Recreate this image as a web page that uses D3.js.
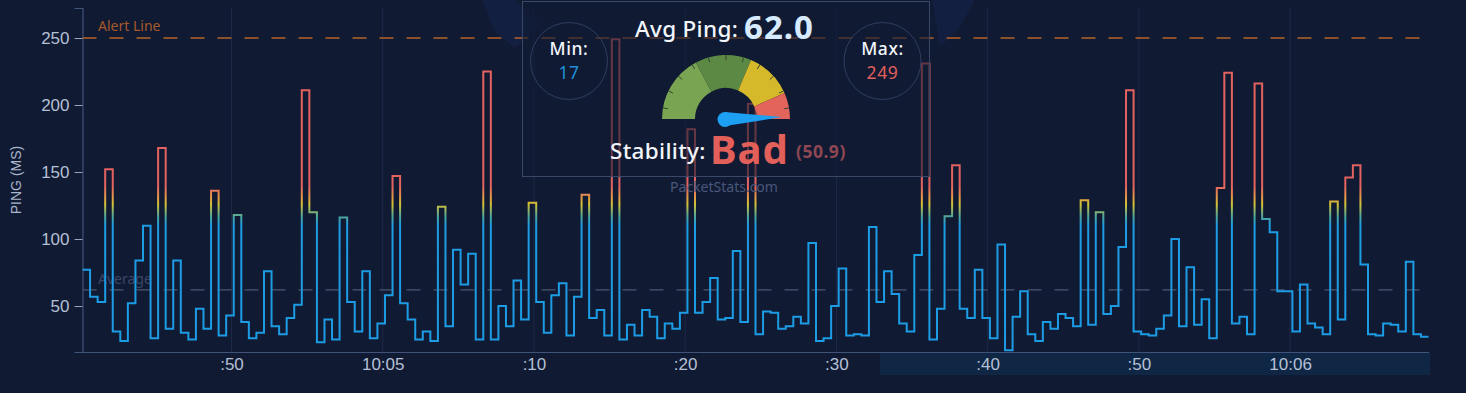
<!DOCTYPE html>
<html>
<head>
<meta charset="utf-8">
<script src="https://cdn.jsdelivr.net/npm/d3@7"></script>
<style>
  html, body { margin: 0; padding: 0; background: #111a33; }
  svg { display: block; }
</style>
</head>
<body>
<div id="chart"></div>
<script>
// ping samples, one every half second
const pingValues = [
  77, 57, 53, 152, 31, 24, 52, 84, 110, 26,
  168, 33, 84, 30, 25, 48, 33, 136, 28, 43,
  118, 38, 26, 30, 76, 35, 29, 41, 51, 211,
  120, 23, 40, 25, 116, 53, 31, 76, 26, 37,
  58, 147, 52, 40, 25, 31, 24, 124, 35, 92,
  66, 89, 25, 225, 25, 50, 35, 69, 40, 127,
  53, 30, 58, 67, 28, 57, 133, 41, 47, 28,
  249, 25, 36, 28, 47, 42, 26, 37, 33, 45,
  182, 45, 53, 71, 40, 41, 91, 38, 201, 29,
  46, 45, 33, 35, 42, 37, 97, 24, 26, 50,
  78, 28, 29, 28, 109, 53, 76, 59, 37, 31,
  88, 231, 25, 48, 117, 155, 48, 41, 77, 41,
  26, 96, 17, 42, 61, 29, 24, 38, 33, 44,
  41, 35, 129, 36, 120, 44, 50, 94, 211, 31,
  29, 28, 33, 43, 100, 35, 79, 36, 55, 26,
  138, 224, 37, 42, 29, 216, 115, 105, 61, 61,
  31, 66, 37, 34, 29, 128, 40, 146, 155, 81,
  29, 28, 37, 36, 31, 83, 29, 27, 27
];
const startTime = new Date(2024, 0, 1, 10, 4, 40, 150);
const sampleMs = 500;

const yTickValues = [50, 100, 150, 200, 250];
const alertLevel = 250;
const avgPing = 62.0;
const minPing = 17;
const maxPing = 249;
const stabilityScore = 50.9;
const stabilityLabel = "Bad";

// gauge bands in degrees (0 = straight up)
const gaugeBands = [
  { from: -90, to: -28, color: "#79a553" },
  { from: -28, to: 23, color: "#5c8a44" },
  { from: 23, to: 66, color: "#d5b92b" },
  { from: 66, to: 90, color: "#e2645a" }
];
const needleDeg = 88;

const W = 1466, H = 393;
const margin = { top: 8, right: 36, bottom: 41, left: 82.5 };

const data = pingValues.map((v, i) => ({ t: new Date(+startTime + i * sampleMs), v }));

const svg = d3.select("#chart")
    .append("svg")
    .attr("width", W)
    .attr("height", H);

svg.append("rect")
    .attr("width", W).attr("height", H)
    .attr("fill", "#111a33");

const x = d3.scaleTime()
    .domain(d3.extent(data, d => d.t))
    .range([margin.left, W - margin.right - 1.5]);

const y = d3.scaleLinear()
    .domain([15.7, 272.4])
    .range([H - margin.bottom, margin.top]);

const defs = svg.append("defs");

const grad = defs.append("linearGradient")
    .attr("id", "pingGrad")
    .attr("gradientUnits", "userSpaceOnUse")
    .attr("x1", 0).attr("x2", 0)
    .attr("y1", y(110)).attr("y2", y(140));
[
  [0, "#1b9ce4"],
  [0.23, "#4fa79a"],
  [0.53, "#d4c233"],
  [0.77, "#e68a4e"],
  [1, "#e3625f"]
].forEach(s => grad.append("stop").attr("offset", s[0]).attr("stop-color", s[1]));

// faint watermark shapes behind the panel
svg.append("path")
    .attr("d", "M482,0 L515,0 L540,24 L515,48 L495,32 Z")
    .attr("fill", "#15244a").attr("opacity", 0.55);
svg.append("path")
    .attr("d", "M932,0 L975,0 L958,30 L940,46 Z")
    .attr("fill", "#15244a").attr("opacity", 0.55);

// bottom navigator band
svg.append("rect")
    .attr("x", 880).attr("y", H - margin.bottom)
    .attr("width", W - margin.right - 880).attr("height", 23)
    .attr("fill", "#0f2745");

// vertical grid
const xTicks = x.ticks(d3.timeSecond.every(10));
svg.append("g")
    .selectAll("line")
    .data(xTicks)
    .join("line")
    .attr("x1", d => x(d)).attr("x2", d => x(d))
    .attr("y1", margin.top).attr("y2", H - margin.bottom)
    .attr("stroke", "#1e2948")
    .attr("stroke-width", 1);

// axes
const yAxis = svg.append("g")
    .attr("transform", `translate(${margin.left},0)`)
    .call(d3.axisLeft(y).tickValues(yTickValues).tickSize(8).tickPadding(5));

const xAxis = svg.append("g")
    .attr("transform", `translate(0,${H - margin.bottom})`)
    .call(d3.axisBottom(x).ticks(d3.timeSecond.every(10)).tickSize(0).tickPadding(6));

[yAxis, xAxis].forEach(g => {
    g.select(".domain").attr("stroke", "#40537a").attr("stroke-width", 1.2);
    g.selectAll(".tick line").attr("stroke", "#9aa6bd");
    g.selectAll(".tick text")
        .attr("fill", "#b4c0d5")
        .style("font-family", "'Liberation Sans', Arial, sans-serif")
        .style("font-size", "17px");
});

svg.append("text")
    .attr("transform", `translate(21,${(margin.top + H - margin.bottom) / 2}) rotate(-90)`)
    .attr("text-anchor", "middle")
    .attr("fill", "#aab6cb")
    .style("font-family", "'Liberation Sans', Arial, sans-serif")
    .style("font-size", "14px")
    .text("PING (MS)");

// reference lines
svg.append("line")
    .attr("x1", margin.left).attr("x2", W - margin.right)
    .attr("y1", y(avgPing)).attr("y2", y(avgPing))
    .attr("stroke", "#4b5672")
    .attr("stroke-width", 1.3)
    .attr("stroke-dasharray", "14,13");
svg.append("text")
    .attr("x", 98).attr("y", y(avgPing) - 6)
    .attr("fill", "#3a4765")
    .style("font-family", "'Noto Sans', sans-serif")
    .style("font-size", "14px")
    .text("Average");

svg.append("line")
    .attr("x1", margin.left).attr("x2", W - margin.right)
    .attr("y1", y(alertLevel)).attr("y2", y(alertLevel))
    .attr("stroke", "#b5632a")
    .attr("stroke-width", 1.3)
    .attr("stroke-dasharray", "14,13");
svg.append("text")
    .attr("x", 98).attr("y", y(alertLevel) - 7)
    .attr("fill", "#a5592a")
    .style("font-family", "'Noto Sans', sans-serif")
    .style("font-size", "14px")
    .text("Alert Line");

// ping line
const line = d3.line()
    .x(d => x(d.t))
    .y(d => y(d.v))
    .curve(d3.curveStepAfter);

svg.append("path")
    .datum(data)
    .attr("d", line)
    .attr("fill", "none")
    .attr("stroke", "url(#pingGrad)")
    .attr("stroke-width", 2);

// summary panel
const panel = svg.append("g");
panel.append("rect")
    .attr("x", 522.5).attr("y", 1.5)
    .attr("width", 407).attr("height", 175)
    .attr("fill", "#111a33").attr("fill-opacity", 0.6)
    .attr("stroke", "#3a4868").attr("stroke-width", 1);

const txt = (px, py, s, size, fill, weight, anchor, spacing) => panel.append("text")
    .attr("x", px).attr("y", py)
    .attr("fill", fill)
    .attr("text-anchor", anchor || "start")
    .style("font-family", "'Noto Sans', sans-serif")
    .style("font-size", size + "px")
    .style("font-weight", weight || 400)
    .style("letter-spacing", (spacing || 0) + "px")
    .text(s);

txt(635, 36.5, "Avg Ping:", 22.5, "#f2f5fa", 500, "start", 0.3);
txt(744, 39, avgPing.toFixed(1), 33, "#d6ebff", 700, "start", 1);

[[569, "Min:", minPing, "#1f8fda"], [882.5, "Max:", maxPing, "#e05f5c"]].forEach(c => {
    panel.append("circle")
        .attr("cx", c[0]).attr("cy", 61).attr("r", 38.5)
        .attr("fill", "none").attr("stroke", "#2f3e60").attr("stroke-width", 1);
    txt(c[0], 55, c[1], 17.5, "#f2f5fa", 500, "middle", 0.6);
    txt(c[0], 79, String(c[2]), 17.5, c[3], 400, "middle", 0.6);
});

// gauge
const gcx = 726, gcy = 119;
const rad = d => d * Math.PI / 180;
const arc = d3.arc().innerRadius(31).outerRadius(64);
const gauge = panel.append("g").attr("transform", `translate(${gcx},${gcy})`);
gauge.selectAll("path.band")
    .data(gaugeBands)
    .join("path")
    .attr("class", "band")
    .attr("d", d => arc({ startAngle: rad(d.from), endAngle: rad(d.to) }))
    .attr("fill", d => d.color);
gauge.selectAll("line.gt")
    .data(d3.range(-80, 81, 16))
    .join("line")
    .attr("class", "gt")
    .attr("x1", d => 59 * Math.sin(rad(d))).attr("y1", d => -59 * Math.cos(rad(d)))
    .attr("x2", d => 64 * Math.sin(rad(d))).attr("y2", d => -64 * Math.cos(rad(d)))
    .attr("stroke", "#34432f").attr("stroke-width", 1);

const na = rad(needleDeg);
const tip = [56 * Math.sin(na), -56 * Math.cos(na)];
const perp = [Math.cos(na) * 7, Math.sin(na) * 7];
gauge.append("path")
    .attr("d", `M${perp[0] - 1},${perp[1]} L${tip[0]},${tip[1]} L${-perp[0] - 1},${-perp[1]} Z`)
    .attr("fill", "#1d9ff2");
gauge.append("circle").attr("cx", -1).attr("cy", 0.5).attr("r", 7.5).attr("fill", "#1d9ff2");

txt(610, 158.5, "Stability:", 22.5, "#f2f5fa", 500, "start", 0.3);
txt(710, 163.5, stabilityLabel, 40, "#e3605a", 700, "start", 1);
txt(796, 158, `(${stabilityScore.toFixed(1)})`, 17.5, "#8e4753", 700, "start", 0.5);

txt(724, 191.5, "PacketStats.com", 14, "#48577a", 400, "middle");
</script>
</body>
</html>
